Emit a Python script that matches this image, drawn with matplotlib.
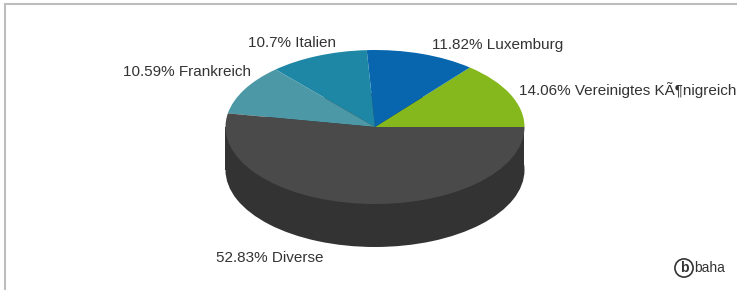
import matplotlib
matplotlib.use("Agg")
import matplotlib.pyplot as plt
from matplotlib.patches import Rectangle

# chart data
labels = ["Vereinigtes KÃ¶nigreich", "Luxemburg", "Italien", "Frankreich", "Diverse"]
shares = [14.06, 11.82, 10.7, 10.59, 52.83]
colors = ["#84b81c", "#0766ae", "#1f87a6", "#4c98a6", "#4a4a4a"]
side_color = "#333333"

W, H = 737, 290
CX, CY = 375, 127      # pie centre (pixels)
RX, RY = 149.5, 77     # ellipse radii (pixels)
DEPTH = 43             # side height (pixels)


def px(x, y):
    # pixel position -> data coords (1 unit = radius)
    return (x - CX) / RX, (CY - y) / RY


plt.rcParams["font.family"] = ["Liberation Sans", "DejaVu Sans"]
fig = plt.figure(figsize=(W / 100, H / 100), dpi=100)
ax = fig.add_axes([0, 0, 1, 1])

d = DEPTH / RY
# bottom of the cylinder and its side
ax.pie([1], colors=[side_color], center=(0, -d), radius=1,
       wedgeprops=dict(linewidth=0))
ax.fill_between([-1, 1], -d, 0, color=side_color, linewidth=0)
# top face
ax.pie(shares, colors=colors, startangle=0, counterclock=True, radius=1,
       wedgeprops=dict(linewidth=0))

ax.set_aspect("auto")
x0, y0 = px(0, H)
x1, y1 = px(W, 0)
ax.set_xlim(x0, x1)
ax.set_ylim(y0, y1)
ax.axis("off")

# slice labels (left edge, vertical centre in pixels)
label_pos = [(519, 90), (432, 45), (248, 43), (123, 72), (216, 258)]
for lab, val, (lx, ly) in zip(labels, shares, label_pos):
    tx, ty = px(lx, ly)
    ax.text(tx, ty, f"{val:g}% {lab}", ha="left", va="center",
            fontsize=11, color="#333333")

# frame (top and left edges only visible)
fig.patches.append(Rectangle((5 / W, -0.1), 1.2, (H - 3.5) / H + 0.1,
                             transform=fig.transFigure, fill=False,
                             edgecolor="#bdbdbd", linewidth=1.5))

# logo
lx, ly = px(684, 268)
ax.text(lx, ly, "b", ha="center", va="center", fontsize=10, fontweight="bold",
        color="#333333",
        bbox=dict(boxstyle="circle,pad=0.15", fc="white", ec="#333333", lw=1.2))
lx, ly = px(694, 268)
ax.text(lx, ly, "baha", ha="left", va="center", fontsize=10, color="#333333")

fig.savefig("out.png", dpi=100)
